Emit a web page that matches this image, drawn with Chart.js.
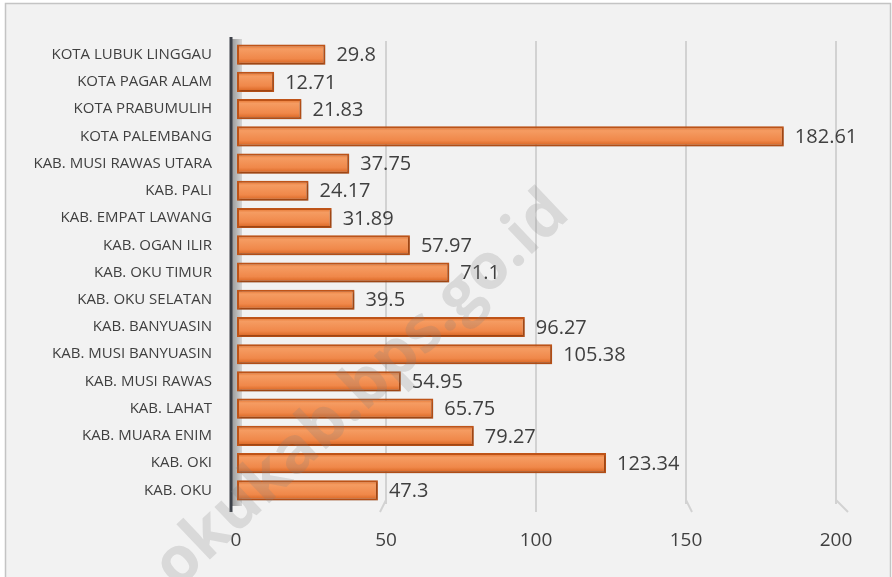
<!DOCTYPE html>
<html>
 <head>
  <meta charset="utf-8">
  <title>Bar chart</title>
  <script src="https://cdn.jsdelivr.net/npm/chart.js"></script>
  <style>
    body { margin: 0; background: #ffffff; }
    #wrap { width: 892px; height: 577px; }
  </style>
 </head>
 <body>
  <div id="wrap">
    <canvas id="myChart" width="892" height="577"></canvas>
  </div>
  <script type="text/javascript">
    // data, top row first
    const regions = [
        'KOTA LUBUK LINGGAU', 'KOTA PAGAR ALAM', 'KOTA PRABUMULIH', 'KOTA PALEMBANG',
        'KAB. MUSI RAWAS UTARA', 'KAB. PALI', 'KAB. EMPAT LAWANG', 'KAB. OGAN ILIR',
        'KAB. OKU TIMUR', 'KAB. OKU SELATAN', 'KAB. BANYUASIN', 'KAB. MUSI BANYUASIN',
        'KAB. MUSI RAWAS', 'KAB. LAHAT', 'KAB. MUARA ENIM', 'KAB. OKI', 'KAB. OKU'
    ];
    const values = [29.8, 12.71, 21.83, 182.61, 37.75, 24.17, 31.89, 57.97, 71.1, 39.5,
        96.27, 105.38, 54.95, 65.75, 79.27, 123.34, 47.3];
    const xMin = 0, xMax = 200, xStep = 50;
    const watermark = 'okukab.bps.go.id';

    const textColor = '#404040';
    const barPct = 0.74;

    function barFill(context) {
        var chart = context.chart;
        var a = chart.chartArea;
        var ys = chart.scales.y;
        if (!a || !ys) return '#ED7D31';
        var cy = ys.getPixelForValue(context.dataIndex);
        var h = (a.bottom - a.top) / regions.length * barPct;
        if (!isFinite(cy) || !isFinite(h)) return '#ED7D31';
        var g = chart.ctx.createLinearGradient(0, cy - h / 2, 0, cy + h / 2);
        g.addColorStop(0, '#e26c25');
        g.addColorStop(0.22, '#f59c62');
        g.addColorStop(0.7, '#f0884a');
        g.addColorStop(1, '#d5601c');
        return g;
    }

    const frame = {
        id: 'frame',
        beforeDraw(chart) {
            var ctx = chart.ctx;
            ctx.save();
            ctx.fillStyle = '#ffffff';
            ctx.fillRect(0, 0, chart.width, chart.height);
            ctx.fillStyle = '#f2f2f2';
            ctx.fillRect(5, 3, chart.width - 6, chart.height - 3);
            ctx.strokeStyle = '#c4c4c4';
            ctx.lineWidth = 1.5;
            ctx.strokeRect(5.5, 3.5, chart.width - 7, chart.height);
            ctx.restore();
        },
        beforeDatasetsDraw(chart) {
            // side wall behind the bars and the kinks of the grid floor
            var ctx = chart.ctx, a = chart.chartArea, xs = chart.scales.x;
            ctx.save();
            var g = ctx.createLinearGradient(a.left - 4, 0, a.left + 6, 0);
            g.addColorStop(0, '#9a9a9a');
            g.addColorStop(1, '#d6d6d6');
            ctx.fillStyle = g;
            ctx.fillRect(a.left - 4, a.top - 2, 10, a.bottom - a.top + 4);
            ctx.strokeStyle = '#d2d2d2';
            ctx.lineWidth = 2;
            for (var v = xStep; v <= xMax; v += xStep) {
                var px = xs.getPixelForValue(v);
                var dx = (v - 100) * 0.12;
                ctx.beginPath();
                ctx.moveTo(px, a.bottom - 4);
                ctx.lineTo(px + dx, a.bottom + 8);
                ctx.stroke();
            }
            // dark value axis
            ctx.strokeStyle = '#3c4048';
            ctx.lineWidth = 3;
            ctx.beginPath();
            ctx.moveTo(a.left - 5, a.top - 4);
            ctx.lineTo(a.left - 5, a.bottom + 8);
            ctx.stroke();
            ctx.restore();
            // soft shadow under the bars
            ctx.save();
            ctx.shadowColor = 'rgba(0,0,0,0.25)';
            ctx.shadowOffsetX = 1;
            ctx.shadowOffsetY = 1;
            ctx.shadowBlur = 2;
        },
        afterDatasetsDraw(chart) {
            var ctx = chart.ctx;
            ctx.restore();
            var meta = chart.getDatasetMeta(0);
            ctx.save();
            ctx.font = '20px "Open Sans"';
            ctx.fillStyle = textColor;
            ctx.textAlign = 'left';
            ctx.textBaseline = 'middle';
            meta.data.forEach(function (bar, i) {
                ctx.fillText(String(values[i]), bar.x + 11, bar.y + 1);
            });
            ctx.restore();
        },
        afterDraw(chart) {
            var ctx = chart.ctx;
            ctx.save();
            ctx.translate(362, 390);
            ctx.rotate(-43.5 * Math.PI / 180);
            ctx.font = 'bold 64px "Open Sans"';
            ctx.fillStyle = 'rgba(128,128,128,0.22)';
            ctx.textAlign = 'center';
            ctx.textBaseline = 'middle';
            ctx.fillText(watermark, 0, 0);
            ctx.restore();
        }
    };

    var ctx = document.getElementById('myChart').getContext('2d');
    var myChart = new Chart(ctx, {
        type: 'bar',
        data: {
            labels: regions,
            datasets: [{
                data: values,
                backgroundColor: barFill,
                borderColor: '#bf5418',
                borderWidth: 2,
                borderSkipped: false,
                barPercentage: barPct,
                categoryPercentage: 1
            }]
        },
        options: {
            indexAxis: 'y',
            responsive: false,
            animation: false,
            layout: { padding: { left: 0, top: 41, right: 56, bottom: 0 } },
            plugins: {
                legend: { display: false },
                tooltip: { enabled: false }
            },
            scales: {
                x: {
                    min: xMin,
                    max: xMax,
                    afterFit: function (scale) { scale.height = 73; },
                    ticks: {
                        stepSize: xStep,
                        padding: 25,
                        color: textColor,
                        font: { family: 'Open Sans', size: 19 }
                    },
                    grid: {
                        color: function (c) { return c.tick && c.tick.value === 0 ? 'rgba(0,0,0,0)' : '#d2d2d2'; },
                        lineWidth: 2,
                        drawTicks: false
                    },
                    border: { display: false }
                },
                y: {
                    afterFit: function (scale) { scale.width = 236; },
                    ticks: {
                        padding: 24,
                        color: textColor,
                        font: { family: 'Open Sans', size: 15 }
                    },
                    grid: { display: false, drawTicks: false },
                    border: { display: false }
                }
            }
        },
        plugins: [frame]
    });
  </script>
 </body>
</html>
